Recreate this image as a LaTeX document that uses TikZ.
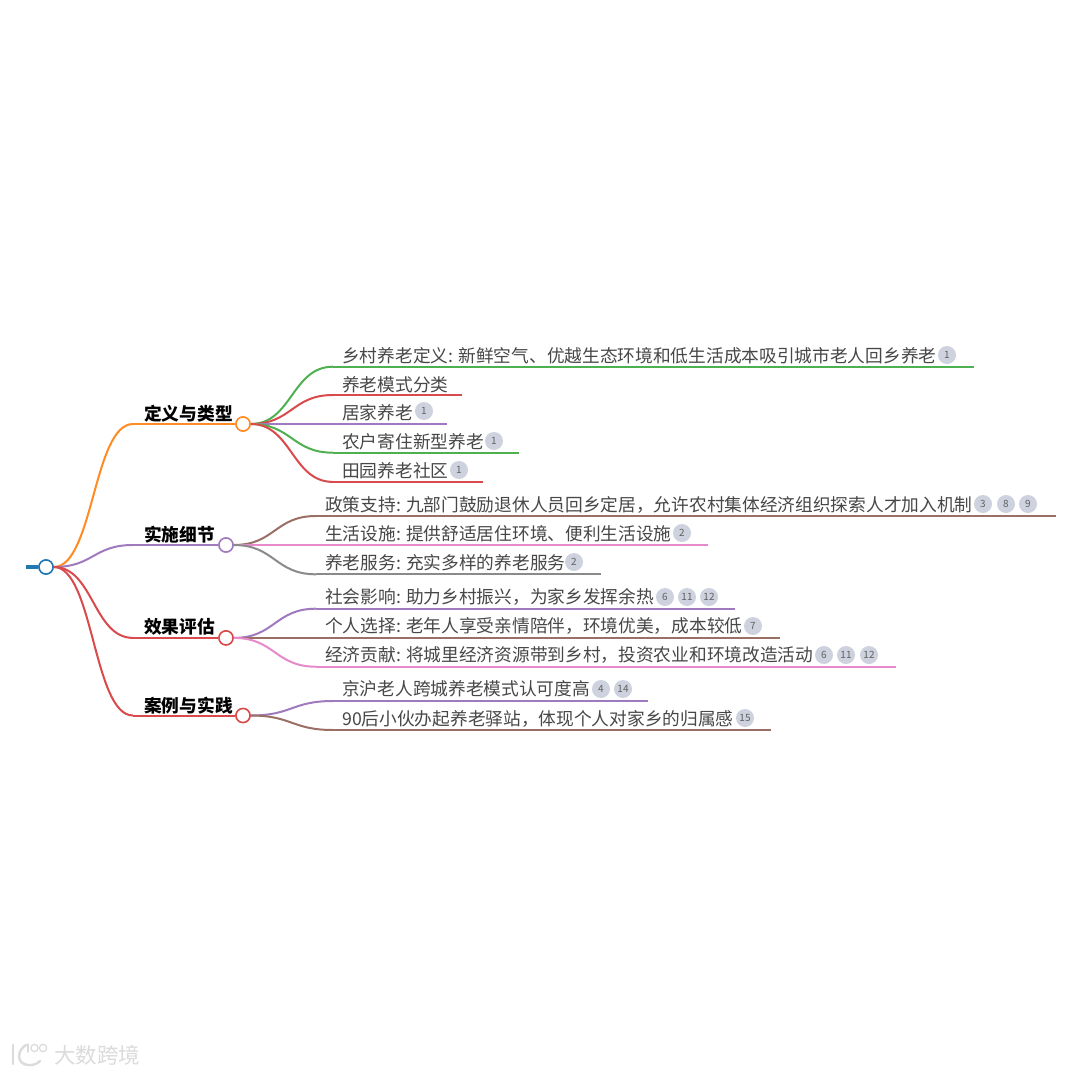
\documentclass[tikz,border=0pt]{standalone}
\usepackage{fontspec}
\setmainfont{Noto Sans CJK SC}
\definecolor{cblue}{HTML}{1F77B4}
\definecolor{corange}{HTML}{FF8B22}
\definecolor{cgreen}{HTML}{4FB04F}
\definecolor{cred}{HTML}{D84A4B}
\definecolor{cpurple}{HTML}{A07ABF}
\definecolor{cbrown}{HTML}{9A6F66}
\definecolor{cpink}{HTML}{E68ACB}
\definecolor{cgrey}{HTML}{8A8A8A}
\definecolor{badgefill}{HTML}{CED2DE}
\newcommand{\linkpath}[4][]{\draw[#2,#1] (#3) .. controls ($(#3)!0.5!(#3 -| #4)$) and ($(#4)!0.5!(#4 -| #3)$) .. (#4);}
\usetikzlibrary{calc}
\tikzset{
  x=1pt,y=1pt,
  dot/.style={circle,draw=#1,fill=white,line width=1.5pt,minimum size=14pt,inner sep=0pt},
  headtext/.style={anchor=base west,inner sep=0pt,font=\fontsize{17.7pt}{20pt}\selectfont\bfseries,text=black},
  leaftext/.style={anchor=base west,inner sep=0pt,font=\fontsize{17.7pt}{20pt}\selectfont,text=black!72},
  badge/.style={circle,fill=badgefill,minimum size=18pt,inner sep=0pt,font=\fontsize{10pt}{11pt}\selectfont,text=black!62},
  branch/.style={draw=#1,line width=2pt},
  twig/.style={draw=#1,line width=2pt},
  mark text/.style={anchor=west,inner sep=0pt,font=\fontsize{21.5pt}{24pt}\selectfont,text=black!14},
  mark line/.style={draw=black!14,line width=#1,line cap=round},
}
\begin{document}
\begin{tikzpicture}
\useasboundingbox (0,-1074) rectangle (1080,0);
\fill[white] (0,-1074) rectangle (1080,0);

% root and branch dots
\node[dot=cblue] (root) at (46,-567) {};
\node[dot=corange] (b1) at (243,-424) {};
\node[dot=cpurple] (b2) at (226,-545) {};
\node[dot=cred] (b3) at (226,-637.9) {};
\node[dot=cred] (b4) at (243,-715.5) {};
\coordinate (stub) at (26,-567);
\draw[draw=cblue,line width=3.5pt] (stub) -- (root);

% bends
\coordinate (k1) at (133,-424);
\coordinate (k2) at (133,-545);
\coordinate (k3) at (133,-637.9);
\coordinate (k4) at (133,-715.5);
\coordinate (r) at (root.east);
\coordinate (e1) at (b1.west);
\coordinate (e2) at (b2.west);
\coordinate (e3) at (b3.west);
\coordinate (e4) at (b4.west);
\linkpath{branch=corange}{r}{k1}
\linkpath{branch=cpurple}{r}{k2}
\linkpath{branch=cred}{r}{k3}
\linkpath{branch=cred}{r}{k4}
\draw[branch=corange] (k1) -- (e1);
\draw[branch=cpurple] (k2) -- (e2);
\draw[branch=cred] (k3) -- (e3);
\draw[branch=cred] (k4) -- (e4);

% twig coordinates
\coordinate (s1) at (b1.east);
\coordinate (s2) at (b2.east);
\coordinate (s3) at (b3.east);
\coordinate (s4) at (b4.east);
\coordinate (a1) at (333,-366.7); \coordinate (z1) at (974,-366.7);
\coordinate (a2) at (333,-395);   \coordinate (z2) at (462,-395);
\coordinate (a3) at (333,-424);   \coordinate (z3) at (447,-424);
\coordinate (a4) at (333,-452.7); \coordinate (z4) at (519,-452.7);
\coordinate (a5) at (333,-481.9); \coordinate (z5) at (483,-481.9);
\coordinate (a6) at (316,-516);   \coordinate (z6) at (1056,-516);
\coordinate (a7) at (316,-545);   \coordinate (z7) at (708,-545);
\coordinate (a8) at (316,-574.3); \coordinate (z8) at (601,-574.3);
\coordinate (a9) at (316,-608.7); \coordinate (z9) at (735,-608.7);
\coordinate (a10) at (316,-637.9);\coordinate (z10) at (780,-637.9);
\coordinate (a11) at (316,-666.7);\coordinate (z11) at (896,-666.7);
\coordinate (a12) at (333,-701);  \coordinate (z12) at (648,-701);
\coordinate (a13) at (333,-730);  \coordinate (z13) at (771,-730);

\linkpath{twig=cgreen}{s1}{a1}   \draw[twig=cgreen] (a1) -- (z1);
\linkpath{twig=cred}{s1}{a2}     \draw[twig=cred] (a2) -- (z2);
\draw[twig=cpurple] (s1) -- (a3) -- (z3);
\linkpath{twig=cgreen}{s1}{a4}   \draw[twig=cgreen] (a4) -- (z4);
\linkpath{twig=cred}{s1}{a5}     \draw[twig=cred] (a5) -- (z5);
\linkpath{twig=cbrown}{s2}{a6}   \draw[twig=cbrown] (a6) -- (z6);
\draw[twig=cpink] (s2) -- (a7) -- (z7);
\linkpath{twig=cgrey}{s2}{a8}    \draw[twig=cgrey] (a8) -- (z8);
\linkpath{twig=cpurple}{s3}{a9}  \draw[twig=cpurple] (a9) -- (z9);
\draw[twig=cbrown] (s3) -- (a10) -- (z10);
\linkpath{twig=cpink}{s3}{a11}   \draw[twig=cpink] (a11) -- (z11);
\linkpath{twig=cpurple}{s4}{a12} \draw[twig=cpurple] (a12) -- (z12);
\linkpath{twig=cbrown}{s4}{a13}  \draw[twig=cbrown] (a13) -- (z13);

% redraw dots above lines
\node[dot=cblue] at (root) {};
\node[dot=corange] at (b1) {};
\node[dot=cpurple] at (b2) {};
\node[dot=cred] at (b3) {};
\node[dot=cred] at (b4) {};

% headings
\node[headtext] (h1) at (144,-420) {定义与类型};
\node[headtext] (h2) at (144,-541) {实施细节};
\node[headtext] (h3) at (144,-633) {效果评估};
\node[headtext] (h4) at (144,-712) {案例与实践};

% leaves
\node[leaftext] (t1) at (342,-362) {乡村养老定义: 新鲜空气、优越生态环境和低生活成本吸引城市老人回乡养老};
\node[leaftext] (t2) at (342,-391) {养老模式分类};
\node[leaftext] (t3) at (342,-419) {居家养老};
\node[leaftext] (t4) at (342,-448) {农户寄住新型养老};
\node[leaftext] (t5) at (342,-477) {田园养老社区};
\node[leaftext] (t6) at (325,-511) {政策支持: 九部门鼓励退休人员回乡定居，允许农村集体经济组织探索人才加入机制};
\node[leaftext] (t7) at (325,-540) {生活设施: 提供舒适居住环境、便利生活设施};
\node[leaftext] (t8) at (325,-569) {养老服务: 充实多样的养老服务};
\node[leaftext] (t9) at (325,-603) {社会影响: 助力乡村振兴，为家乡发挥余热};
\node[leaftext] (t10) at (325,-632) {个人选择: 老年人享受亲情陪伴，环境优美，成本较低};
\node[leaftext] (t11) at (325,-661) {经济贡献: 将城里经济资源带到乡村，投资农业和环境改造活动};
\node[leaftext] (t12) at (342,-695.5) {京沪老人跨城养老模式认可度高};
\node[leaftext] (t13) at (342,-725) {90后小伙办起养老驿站，体现个人对家乡的归属感};

% badges
\node[badge] (n1) at (947,-355) {1};
\node[badge] (n2) at (424,-411) {1};
\node[badge] (n3) at (494,-441) {1};
\node[badge] (n4) at (459,-470) {1};
\node[badge] (n5) at (983,-504) {3};
\node[badge] (n6) at (1006,-504) {8};
\node[badge] (n7) at (1028,-504) {9};
\node[badge] (n8) at (682,-533) {2};
\node[badge] (n9) at (574,-562) {2};
\node[badge] (n10) at (665,-597) {6};
\node[badge] (n11) at (687,-597) {11};
\node[badge] (n12) at (709,-597) {12};
\node[badge] (n13) at (753,-626) {7};
\node[badge] (n14) at (824,-655) {6};
\node[badge] (n15) at (846,-655) {11};
\node[badge] (n16) at (869,-655) {12};
\node[badge] (n17) at (601,-689) {4};
\node[badge] (n18) at (623,-689) {14};
\node[badge] (n19) at (745,-718) {15};

% watermark
\node[mark text] (wm) at (54,-1055) {大数跨境};
\draw[mark line=2.4pt] (13,-1045) -- (13,-1064);
\draw[mark line=2.4pt] (26,-1045) .. controls (17,-1050) and (16,-1064) .. (28,-1065) .. controls (33,-1065.5) and (37,-1064) .. (40,-1061);
\draw[mark line=1.3pt] (28,-1044) -- (28,-1052);
\draw[mark line=1.3pt] (34.5,-1048) circle (3.6);
\draw[mark line=1.3pt] (43,-1048) circle (3.6);
\end{tikzpicture}
\end{document}
